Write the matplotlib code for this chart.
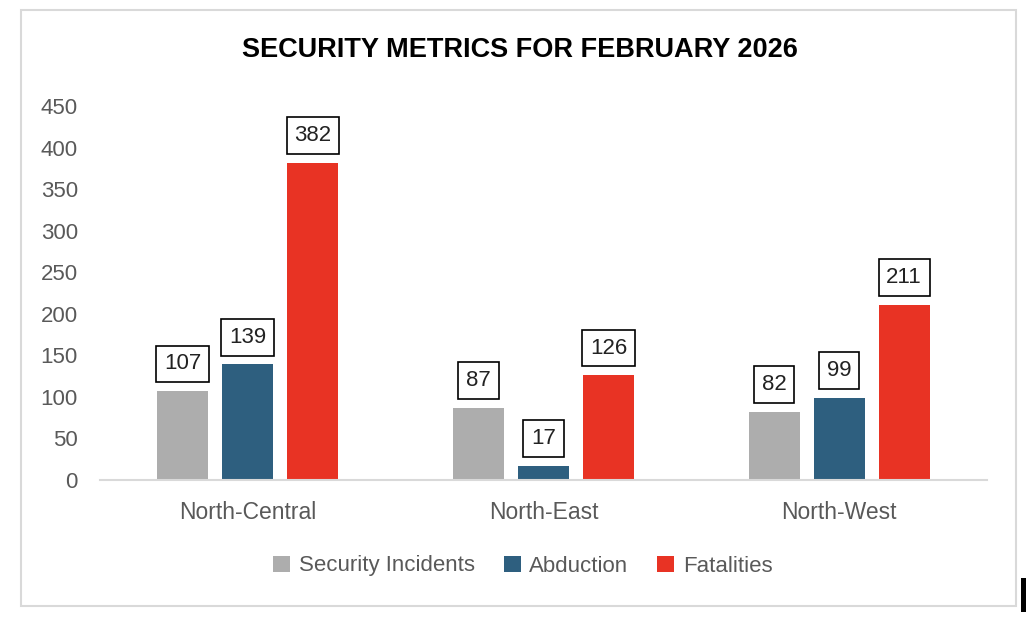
import matplotlib.pyplot as plt
import numpy as np
from matplotlib.patches import Rectangle

regions = ["North-Central", "North-East", "North-West"]
incidents = [107, 87, 82]
abduction = [139, 17, 99]
fatalities = [382, 126, 211]
series_names = ["Security Incidents", "Abduction", "Fatalities"]
colors = ["#ADADAD", "#2E5F7F", "#E83324"]

plt.rcParams['font.family'] = ['Liberation Sans', 'DejaVu Sans']

fig = plt.figure(figsize=(10.28, 6.26), dpi=100)
ax = fig.add_axes([100/1028, 1-480/626, 887/1028, 374/626])

x = np.arange(len(regions))
w = 0.172
offs = [-0.22, 0, 0.22]
for vals, off, c, name in zip([incidents, abduction, fatalities], offs, colors, series_names):
    bars = ax.bar(x + off, vals, w, color=c, label=name)
    for b, v in zip(bars, vals):
        ax.annotate(str(v), (b.get_x() + b.get_width()/2, v), xytext=(0, 12),
                    textcoords="offset points", ha="center", va="bottom",
                    fontsize=16, color="#222222",
                    bbox=dict(boxstyle="square,pad=0.35", fc="white", ec="black", lw=1.2))

ax.set_xlim(-0.5, 2.5)
ax.set_ylim(0, 450)
ax.set_yticks(range(0, 451, 50))
ax.set_xticks(x)
ax.set_xticklabels(regions)
ax.tick_params(axis="y", length=0, labelsize=16, labelcolor="#595959", pad=16)
ax.tick_params(axis="x", length=0, labelsize=16.5, labelcolor="#595959", pad=15)
for s in ["top", "right", "left"]:
    ax.spines[s].set_visible(False)
ax.spines["bottom"].set_color("#D9D9D9")
ax.spines["bottom"].set_linewidth(1.5)

fig.text(520/1028, 1-50/626, "SECURITY METRICS FOR FEBRUARY 2026", ha="center", va="center",
         fontsize=19.5, fontweight="bold", color="black")

leg = fig.legend(loc="center", bbox_to_anchor=(523/1028, 1-566/626), ncol=3, frameon=False,
                 fontsize=16, handlelength=0.75, handleheight=0.75, columnspacing=1.3, handletextpad=0.4)
for t in leg.get_texts():
    t.set_color("#595959")

# outer chart border
fig.patches.append(Rectangle((21/1028, 1-606/626), 995/1028, 596/626, transform=fig.transFigure,
                             fill=False, ec="#D9D9D9", lw=1.5))
fig.patches.append(Rectangle((1021/1028, 1-612/626), 5/1028, 34/626, transform=fig.transFigure,
                             fc="black", ec="none"))

plt.savefig("out.png", dpi=100)
